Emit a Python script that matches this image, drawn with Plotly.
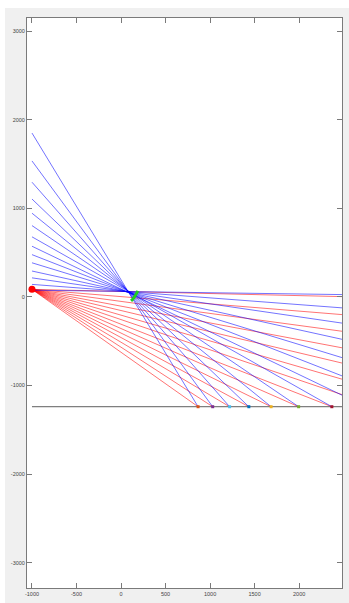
import plotly.graph_objects as go

# ---- data ----
# blue rays: start at x=-1000 with these heights, pass near the focus, end at given points
blue_start_x = -1000
blue_start_y = [1850, 1535, 1295, 1105, 945, 805, 678, 572, 477, 385, 292, 215, 141, 76]
blue_end_x = [865, 1029, 1219, 1435, 1685, 1994, 2367, 2481, 2481, 2481, 2481, 2481, 2481, 2481]
blue_end_y = [-1240, -1240, -1240, -1240, -1240, -1240, -1240, -1110, -892, -686, -479, -296, -124, 26]

# red rays: from the red source to end points
red_source = (-1000, 85)
red_end_x = [2481, 2481, 2481, 2481, 2481, 2481, 2481, 2367, 1994, 1685, 1435, 1219, 1029, 865]
red_end_y = [3, -200, -388, -575, -747, -929, -1103, -1240, -1240, -1240, -1240, -1240, -1240, -1240]

# detector line
detector_x = [-1000, 2481]
detector_y = [-1240, -1240]

# image points on detector
image_x = [865, 1029, 1219, 1435, 1685, 1994, 2367]
image_y = [-1240] * 7
image_colors = ["#d95319", "#7e2f8e", "#4dbeee", "#0072bd", "#edb120", "#77ac30", "#a2142f"]

# green optical element
green_x = [112, 128, 145, 162, 177, 188]
green_y = [-45, -30, -8, 18, 45, 68]

x_ticks = [-1000, -500, 0, 500, 1000, 1500, 2000]
y_ticks = [-3000, -2000, -1000, 0, 1000, 2000, 3000]

# ---- build figure ----
fig = go.Figure()

bx, by = [], []
for y0, xe, ye in zip(blue_start_y, blue_end_x, blue_end_y):
    bx += [blue_start_x, xe, None]
    by += [y0, ye, None]

rx, ry = [], []
for xe, ye in zip(red_end_x, red_end_y):
    rx += [red_source[0], xe, None]
    ry += [red_source[1], ye, None]

fig.add_trace(go.Scatter(x=detector_x, y=detector_y, mode="lines",
                         line=dict(color="rgb(95,95,95)", width=1), hoverinfo="skip"))
fig.add_trace(go.Scatter(x=rx, y=ry, mode="lines",
                         line=dict(color="rgba(255,0,0,0.55)", width=1), hoverinfo="skip"))
fig.add_trace(go.Scatter(x=bx, y=by, mode="lines",
                         line=dict(color="rgba(0,0,255,0.55)", width=1), hoverinfo="skip"))
fig.add_trace(go.Scatter(x=green_x, y=green_y, mode="lines",
                         line=dict(color="#22cc22", width=3, shape="spline"), hoverinfo="skip"))
fig.add_trace(go.Scatter(x=[red_source[0]], y=[red_source[1]], mode="markers",
                         marker=dict(color="red", size=7), hoverinfo="skip"))
fig.add_trace(go.Scatter(x=image_x, y=image_y, mode="markers",
                         marker=dict(color=image_colors, size=3, symbol="square"), hoverinfo="skip"))

axis_common = dict(
    showgrid=False, zeroline=False, showline=True, mirror="allticks",
    linecolor="#7a7a7a", linewidth=1, ticks="inside", ticklen=5, tickwidth=1,
    tickcolor="#7a7a7a", tickfont=dict(family="Liberation Sans, Arial", size=5.5, color="#444444"),
)

fig.update_layout(
    width=344, height=595,
    margin=dict(l=22, r=6, t=10, b=10),
    paper_bgcolor="#f0f0f0", plot_bgcolor="white",
    showlegend=False,
    xaxis=dict(range=[-1056, 2481], tickvals=x_ticks, ticktext=[str(v) for v in x_ticks], **axis_common),
    yaxis=dict(range=[-3287, 3149], tickvals=y_ticks, ticktext=[str(v) for v in y_ticks], **axis_common),
)

fig.write_html(
    "out.html",
    post_script="document.body.style.margin='8px 0 0 5px';document.body.style.overflow='hidden';",
)
